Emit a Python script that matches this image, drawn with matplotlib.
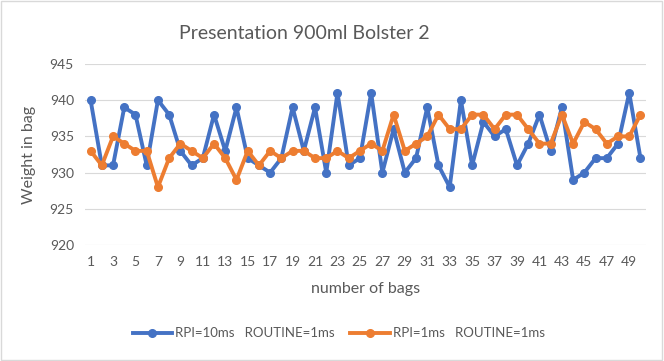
import matplotlib
matplotlib.use("Agg")
import matplotlib.pyplot as plt
from matplotlib.patches import Rectangle

plt.rcParams['font.family'] = ['Lato', 'DejaVu Sans']

# data
bags = list(range(1, 51))
rpi_10ms = [940, 931, 931, 939, 938, 931, 940, 938, 933, 931,
            932, 938, 933, 939, 932, 931, 930, 932, 939, 933,
            939, 930, 941, 931, 932, 941, 930, 936, 930, 932,
            939, 931, 928, 940, 931, 937, 935, 936, 931, 934,
            938, 933, 939, 929, 930, 932, 932, 934, 941, 932]
rpi_1ms = [933, 931, 935, 934, 933, 933, 928, 932, 934, 933,
           932, 934, 932, 929, 933, 931, 933, 932, 933, 933,
           932, 932, 933, 932, 933, 934, 933, 938, 933, 934,
           935, 938, 936, 936, 938, 938, 936, 938, 938, 936,
           934, 934, 938, 934, 937, 936, 934, 935, 935, 938]
labels = ['RPI=10ms   ROUTINE=1ms', 'RPI=1ms   ROUTINE=1ms']
yticks = [920, 925, 930, 935, 940, 945]

blue = '#4472C4'
orange = '#ED7D31'
gray = '#595959'

fig = plt.figure(figsize=(6.64, 3.61), dpi=100)
ax = fig.add_axes([0.128, 0.321, 0.845, 0.502])

ax.plot(bags, rpi_10ms, color=blue, lw=2.8, marker='o', ms=5.5, label=labels[0])
ax.plot(bags, rpi_1ms, color=orange, lw=2.8, marker='o', ms=5.5, label=labels[1])

ax.set_xlim(0.5, 50.5)
ax.set_ylim(920, 945)
ax.set_yticks(yticks)
ax.set_xticks(bags[::2])
ax.grid(axis='y', color='#D9D9D9', lw=0.8)
ax.set_axisbelow(True)
for s in ax.spines.values():
    s.set_visible(False)
ax.tick_params(length=0, colors=gray, labelsize=10, pad=8)

ax.set_title('Presentation 900ml Bolster 2', fontsize=14, color=gray, pad=18, x=0.39)
ax.set_xlabel('number of bags', fontsize=11.5, color=gray, labelpad=10)
ax.set_ylabel('Weight in bag', fontsize=11.5, color=gray, labelpad=10)

fig.legend(loc='center', bbox_to_anchor=(0.51, 0.077), ncol=2, frameon=False,
           fontsize=9.5, labelcolor=gray, handlelength=3, columnspacing=1.2, handletextpad=0.2)

fig.add_artist(Rectangle((0.002, 0.003), 0.995, 0.993, transform=fig.transFigure,
                         fill=False, edgecolor='#D9D9D9', lw=1))

fig.savefig('out.png', dpi=100)
